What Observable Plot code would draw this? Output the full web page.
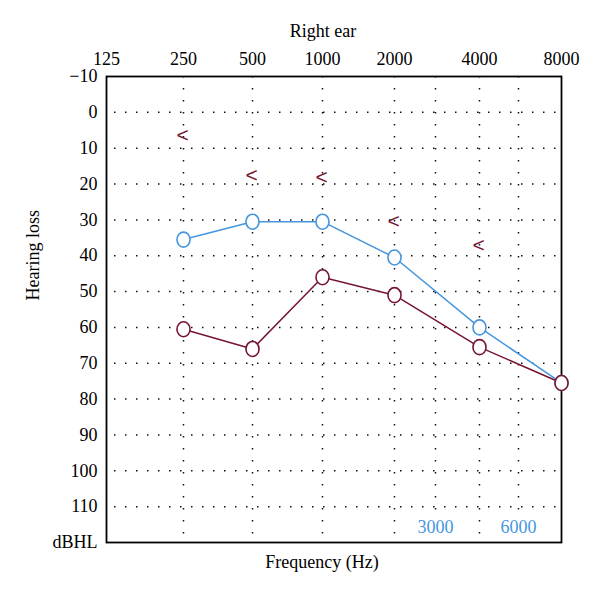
<!DOCTYPE html>
<html><head><meta charset="utf-8">
<script src="https://cdn.jsdelivr.net/npm/d3@7"></script>
<script src="https://cdn.jsdelivr.net/npm/@observablehq/plot@0.6"></script>
<style>body{margin:0;background:#fff}</style>
</head><body><div id="chart"></div>
<script>
// ---- data ----
const frequencies = [250, 500, 1000, 2000, 4000, 8000];
const blueLevels = [35.5, 30.5, 30.5, 40.5, 60, 75.5];
const redLevels = [60.5, 66, 46, 51, 65.5, 75.5];
const markerFrequencies = [250, 500, 1000, 2000, 4000];
const markerLevels = [6.5, 17.5, 18, 30.5, 37];
const markerSymbol = "<";
const topTicks = [125, 250, 500, 1000, 2000, 4000, 8000];
const gridFrequencies = [250, 500, 1000, 2000, 3000, 4000, 6000];
const extraTicks = [3000, 6000];
const levelTicks = [-10, 0, 10, 20, 30, 40, 50, 60, 70, 80, 90, 100, 110, 120];
const gridLevels = [0, 10, 20, 30, 40, 50, 60, 70, 80, 90, 100, 110];
const title = "Right ear";
const xLabel = "Frequency (Hz)";
const yLabel = "Hearing loss";
const unitLabel = "dBHL";

// ---- tables ----
const blue = frequencies.map((f, i) => ({f, v: blueLevels[i]}));
const red = frequencies.map((f, i) => ({f, v: redLevels[i]}));
const markers = markerFrequencies.map((f, i) => ({f, v: markerLevels[i]}));

const BLUE = "#4596de";
const RED = "#751631";

const ellipse = {
  draw(ctx, size) {
    const r = Math.sqrt(size / Math.PI), rx = r * 0.87, ry = r, k = 0.5523;
    ctx.moveTo(rx, 0);
    ctx.bezierCurveTo(rx, ry * k, rx * k, ry, 0, ry);
    ctx.bezierCurveTo(-rx * k, ry, -rx, ry * k, -rx, 0);
    ctx.bezierCurveTo(-rx, -ry * k, -rx * k, -ry, 0, -ry);
    ctx.bezierCurveTo(rx * k, -ry, rx, -ry * k, rx, 0);
    ctx.closePath();
  }
};

const chart = Plot.plot({
  width: 600,
  height: 592,
  marginLeft: 106,
  marginRight: 39,
  marginTop: 76,
  marginBottom: 50,
  style: {fontFamily: "'Liberation Serif', serif", fontSize: "18px", background: "white", color: "black"},
  x: {type: "log", axis: null,
      domain: [125, 250, 500, 1000, 2000, 3000, 4000, 6000, 8000],
      range: [106, 183, 252, 322, 394, 435, 479, 518, 561]},
  y: {domain: [-10, 120], range: [76, 542]},
  marks: [
    Plot.gridX(gridFrequencies, {stroke: "#111", strokeOpacity: 1, strokeWidth: 1.5, strokeDasharray: "1.5,10.5"}),
    Plot.gridY(gridLevels, {stroke: "#111", strokeOpacity: 1, strokeWidth: 1.5, strokeDasharray: "1.5,9.5", strokeDashoffset: -8}),
    Plot.frame({stroke: "black", strokeWidth: 1.8}),
    Plot.text(topTicks, {x: d => d, frameAnchor: "top", dy: -17, text: d => String(d), fontSize: 18, lineAnchor: "middle"}),
    Plot.axisY({anchor: "left", ticks: levelTicks, tickSize: 0, tickPadding: 9, tickFormat: d => d === 120 ? unitLabel : d3.format("d")(d), label: null, fontSize: 18}),
    Plot.text([title], {frameAnchor: "top", dx: -11, dy: -45, fontSize: 18, lineAnchor: "middle"}),
    Plot.text([xLabel], {frameAnchor: "bottom", dx: -12, dy: 20, fontSize: 18, lineAnchor: "middle"}),
    Plot.text([yLabel], {frameAnchor: "left", dx: -73, dy: -9, rotate: -90, fontSize: 18, lineAnchor: "middle"}),
    Plot.text(extraTicks, {x: d => d, frameAnchor: "bottom", dy: -15, text: d => String(d), fill: BLUE, stroke: "white", strokeWidth: 5, paintOrder: "stroke", fontSize: 18, lineAnchor: "middle"}),
    Plot.text(markers, {x: "f", y: "v", dx: -1, text: () => markerSymbol, fill: RED, fontSize: 21, fontFamily: "'Liberation Sans', sans-serif"}),
    Plot.line(blue, {x: "f", y: "v", stroke: BLUE, strokeWidth: 1.5}),
    Plot.line(red, {x: "f", y: "v", stroke: RED, strokeWidth: 1.5}),
    Plot.dot(blue, {x: "f", y: "v", r: 7.5, symbol: ellipse, stroke: BLUE, fill: "white", strokeWidth: 1.6}),
    Plot.dot(red, {x: "f", y: "v", r: 7.5, symbol: ellipse, stroke: RED, fill: "white", strokeWidth: 1.6})
  ]
});
document.getElementById("chart").appendChild(chart);
</script>
</body></html>
